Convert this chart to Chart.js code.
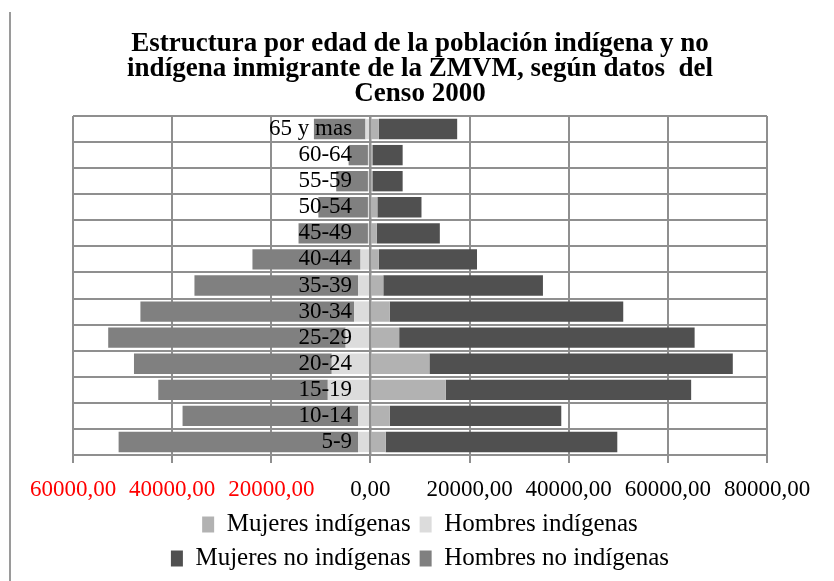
<!DOCTYPE html>
<html lang="es">
<head>
<meta charset="utf-8">
<title>Estructura por edad - ZMVM Censo 2000</title>
<script src="https://cdn.jsdelivr.net/npm/chart.js@4.4.1/dist/chart.umd.min.js"></script>
<style>
  body { margin: 0; background: #fff; }
  #wrap { position: relative; width: 834px; height: 581px; }
  #edge { position: absolute; left: 9px; top: 12px; bottom: 0; width: 2px; background: #9a9a9a; }
</style>
</head>
<body>
<div id="wrap">
  <div id="edge"></div>
  <canvas id="pyramid" width="834" height="581"></canvas>
</div>
<script>
// Age groups, top to bottom as in the chart
const ageGroups = ['65 y mas', '60-64', '55-59', '50-54', '45-49', '40-44', '35-39',
  '30-34', '25-29', '20-24', '15-19', '10-14', '5-9'];

// Women to the right (positive), men to the left (negative)
const mujeresIndigenas = [1700, 400, 400, 1400, 1300, 1700, 2600, 3900, 5800, 11900, 15200, 3900, 3100];
const hombresIndigenas = [-1000, -500, -500, -500, -500, -2000, -2500, -3300, -5000, -7800, -8600, -2500, -2500];
const mujeresNoIndigenas = [15800, 6100, 6100, 8900, 12700, 19800, 32200, 47100, 59600, 61200, 49500, 34600, 46700];
const hombresNoIndigenas = [-10400, -3900, -6400, -10000, -14000, -21800, -33000, -43100, -47900, -39900, -34200, -35400, -48300];

const xMin = -60000;
const xMax = 80000;
const xStep = 20000;
// age labels sit just left of the zero line
const labelAnchor = -3700;

const titleLines = [
  'Estructura por edad de la población indígena y no',
  'indígena inmigrante de la ZMVM, según datos  del',
  'Censo 2000'
];

const serif = 'Liberation Serif, Times New Roman, serif';
const gridGray = '#8f8f8f';

const makeSet = (label, data, color) => ({
  label: label,
  data: data,
  backgroundColor: color,
  borderWidth: 0,
  categoryPercentage: 1,
  barPercentage: 0.78,
  yAxisID: 'y',
});

const ctx = document.getElementById('pyramid');
const pyramidChart = new Chart(ctx, {
  type: 'bar',
  data: {
    labels: ageGroups,
    datasets: [
      makeSet('Mujeres indígenas', mujeresIndigenas, '#b2b2b2'),
      makeSet('Hombres indígenas', hombresIndigenas, '#dcdcdc'),
      makeSet('Mujeres no indígenas', mujeresNoIndigenas, '#505050'),
      makeSet('Hombres no indígenas', hombresNoIndigenas, '#808080'),
    ],
  },
  options: {
    indexAxis: 'y',
    responsive: false,
    animation: false,
    layout: {
      padding: { left: 73, right: 67, top: 0, bottom: 0 },
    },
    scales: {
      x: {
        stacked: true,
        min: xMin,
        max: xMax,
        ticks: {
          stepSize: xStep,
          padding: 2,
          font: { family: serif, size: 23, lineHeight: 1 },
          color: (c) => (c.tick && c.tick.value < 0 ? '#ff0000' : '#000000'),
          callback: (v) => Math.abs(v).toFixed(2).replace('.', ','),
        },
        grid: {
          color: gridGray,
          lineWidth: 2,
          tickLength: 21,
          tickBorderDash: [7, 100],
        },
        border: { color: gridGray, width: 2 },
      },
      y: {
        stacked: true,
        position: { x: labelAnchor },
        ticks: {
          z: 1,
          autoSkip: false,
          color: '#000000',
          font: { family: serif, size: 23 },
        },
        grid: { color: gridGray, lineWidth: 2, drawTicks: false },
        border: { display: false },
      },
      // zero line drawn over the bars
      yZero: {
        type: 'category',
        axis: 'y',
        position: { x: 0 },
        ticks: { display: false },
        grid: { display: false, drawTicks: false },
        border: { color: gridGray, width: 2.5, z: 1 },
      },
    },
    plugins: {
      title: {
        display: true,
        text: titleLines,
        color: '#000000',
        font: { family: serif, size: 27, weight: 'bold', lineHeight: '25px' },
        padding: { top: 32, bottom: 9 },
      },
      legend: {
        position: 'bottom',
        fullSize: false,
        labels: {
          color: '#000000',
          font: { family: serif, size: 25 },
          boxWidth: 12,
          boxHeight: 16,
          padding: 9,
        },
      },
      tooltip: { enabled: false },
    },
  },
});
</script>
</body>
</html>
